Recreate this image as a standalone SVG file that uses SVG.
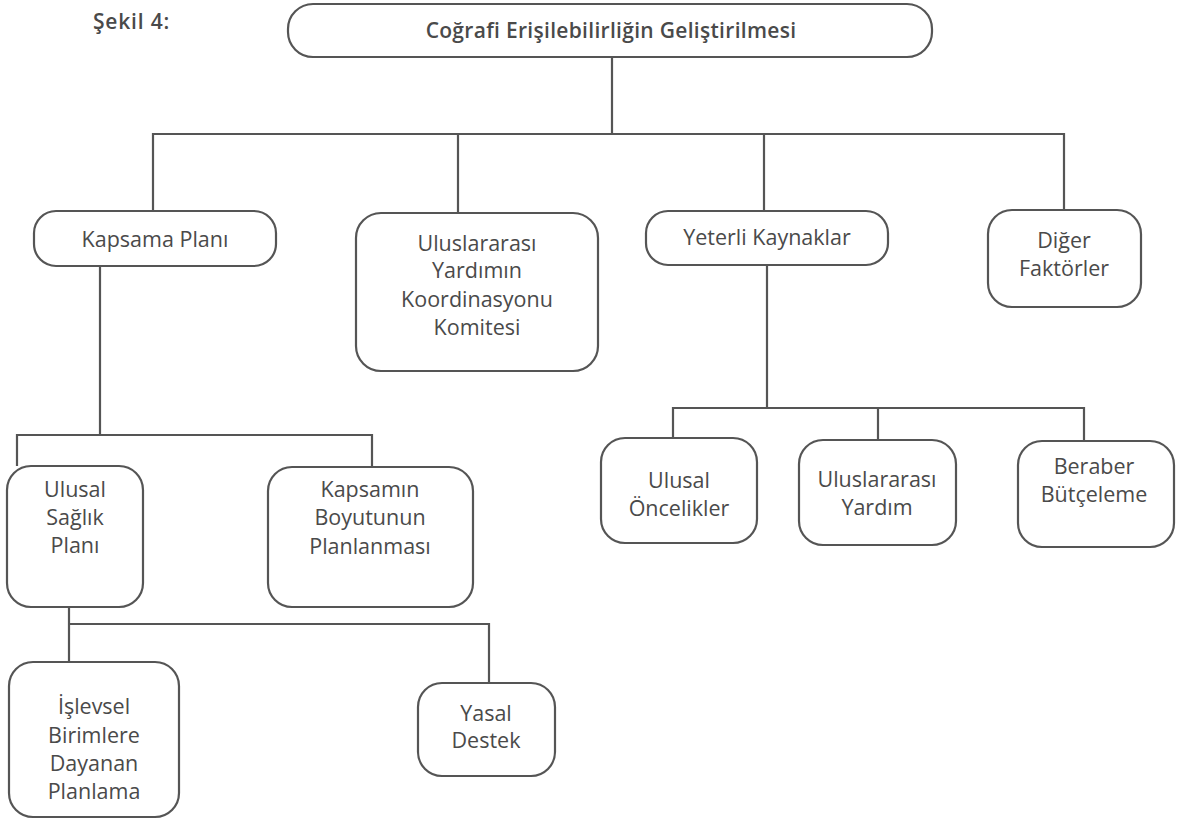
<svg xmlns="http://www.w3.org/2000/svg" width="1189" height="819" viewBox="0 0 1189 819">
<style>
.box{fill:#fff;stroke:#555;stroke-width:2.2}
.ln{fill:none;stroke:#555;stroke-width:2.2}
text{font-family:"Open Sans","Noto Sans","Liberation Sans",sans-serif;font-size:21.5px;fill:#4a4a4a;text-anchor:middle}
.t{font-weight:600;font-size:21px;letter-spacing:0.3px}
.cap{font-weight:600;font-size:21px;letter-spacing:0.8px;text-anchor:start}
</style>
<rect width="1189" height="819" fill="#fff"/>
<text class="cap" x="93" y="29">Şekil 4:</text>
<g id="connectors">
<path class="ln" d="M612 57V134M153 211V134H1064V211M458 134V213M764 134V211"/>
<path class="ln" d="M100 266V435M17 466V435H372V467"/>
<path class="ln" d="M767 265V408M673 438V408H1084V441M878 408V440"/>
<path class="ln" d="M69 607V624M69 662V624H489V683"/>
</g>
<g id="root"><rect class="box" x="288" y="4" width="644" height="53" rx="25"/><text class="t" x="611" y="38">Coğrafi Erişilebilirliğin Geliştirilmesi</text></g>
<g id="kapsama"><rect class="box" x="34" y="211" width="242" height="55" rx="22"/><text x="155" y="247">Kapsama Planı</text></g>
<g id="koord"><rect class="box" x="356" y="213" width="242" height="158" rx="25"/><text x="477" y="251">Uluslararası</text><text x="477" y="278">Yardımın</text><text x="477" y="307">Koordinasyonu</text><text x="477" y="335">Komitesi</text></g>
<g id="yeterli"><rect class="box" x="646" y="211" width="242" height="54" rx="22"/><text x="767" y="245">Yeterli Kaynaklar</text></g>
<g id="diger"><rect class="box" x="988" y="210" width="153" height="97" rx="24"/><text x="1064" y="248">Diğer</text><text x="1064" y="276">Faktörler</text></g>
<g id="ulusal-saglik"><rect class="box" x="7" y="466" width="136" height="141" rx="24"/><text x="75" y="497">Ulusal</text><text x="75" y="525">Sağlık</text><text x="75" y="553">Planı</text></g>
<g id="kapsamin"><rect class="box" x="268" y="467" width="205" height="140" rx="24"/><text x="370" y="497">Kapsamın</text><text x="370" y="525">Boyutunun</text><text x="370" y="554">Planlanması</text></g>
<g id="oncelikler"><rect class="box" x="601" y="438" width="156" height="105" rx="24"/><text x="679" y="488">Ulusal</text><text x="679" y="516">Öncelikler</text></g>
<g id="yardim"><rect class="box" x="799" y="440" width="157" height="105" rx="24"/><text x="877" y="487">Uluslararası</text><text x="877" y="515">Yardım</text></g>
<g id="butce"><rect class="box" x="1018" y="441" width="156" height="106" rx="24"/><text x="1094" y="474">Beraber</text><text x="1094" y="502">Bütçeleme</text></g>
<g id="islevsel"><rect class="box" x="9" y="662" width="170" height="155" rx="24"/><text x="94" y="714">İşlevsel</text><text x="94" y="743">Birimlere</text><text x="94" y="771">Dayanan</text><text x="94" y="799">Planlama</text></g>
<g id="yasal"><rect class="box" x="418" y="683" width="137" height="93" rx="24"/><text x="486" y="721">Yasal</text><text x="486" y="748">Destek</text></g>
</svg>
